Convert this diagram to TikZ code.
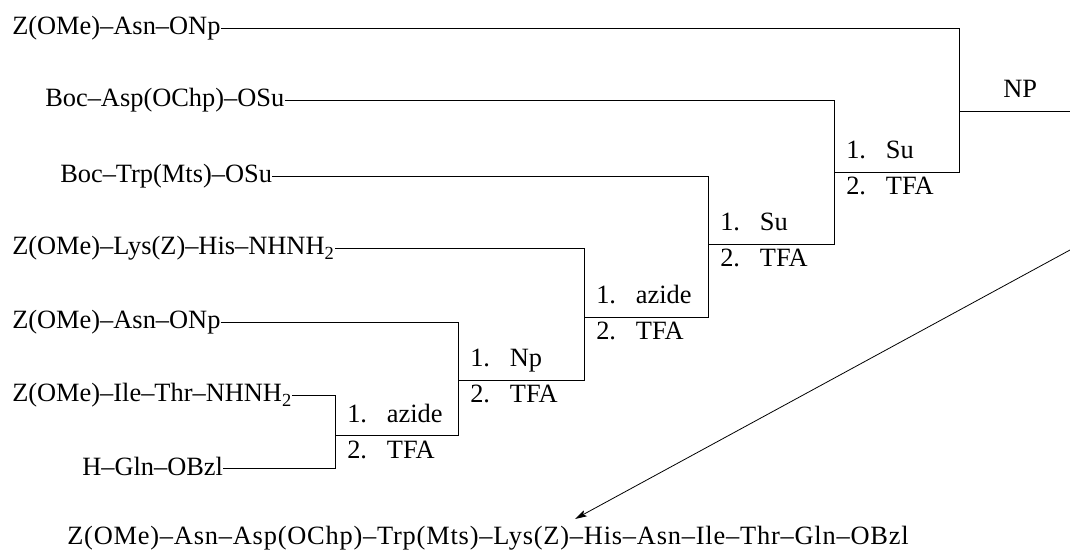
\documentclass[tikz,border=0pt]{standalone}
\usepackage{fontspec}
\setmainfont{Liberation Serif}
\usetikzlibrary{arrows.meta}

\newcommand{\gap}{\hspace{0.75em}}

\begin{document}
\begin{tikzpicture}[x=0.75pt, y=-0.75pt, >={Stealth[length=9pt, width=5pt, inset=2pt]},
		every node/.style={font=\fontsize{19.8}{24}\selectfont, inner sep=0pt},
		chem/.style={anchor=west, text height=14pt, text depth=3.5pt},
		cond/.style={anchor=base west},
		bond/.style={line width=0.6pt}]
	\useasboundingbox (0,0) rectangle (1070,555);
	% starting fragments
	\node[chem] (asnA) at (12,28) {Z(OMe)--Asn--ONp};
	\node[chem] (aspB) at (45,100) {Boc--Asp(OChp)--OSu};
	\node[chem] (trpC) at (60,176) {Boc--Trp(Mts)--OSu};
	\node[chem] (lysD) at (12,248) {Z(OMe)--Lys(Z)--His--NHNH\textsubscript{2}};
	\node[chem] (asnE) at (12,322) {Z(OMe)--Asn--ONp};
	\node[chem] (ileF) at (12,395) {Z(OMe)--Ile--Thr--NHNH\textsubscript{2}};
	\node[chem] (glnG) at (82,468) {H--Gln--OBzl};
	% coupling points
	\coordinate (j1) at (335,435);
	\coordinate (j2) at (458,380);
	\coordinate (j3) at (584,317);
	\coordinate (j4) at (708,244);
	\coordinate (j5) at (834,172);
	\coordinate (j6) at (959,111);
	\coordinate (npend) at (1070,111);
	\draw[bond] (ileF.east) -| (j1);
	\draw[bond] (glnG.east) -| (j1);
	\foreach \frag/\prev/\here in {asnE/j1/j2, lysD/j2/j3, trpC/j3/j4, aspB/j4/j5, asnA/j5/j6} {
			\draw[bond] (\frag.east) -| (\here);
			\draw[bond] (\prev) -| (\here);
		}
	\draw[bond] (j6) -- (npend);
	% conditions
	\foreach \j/\reag in {j1/azide, j2/Np, j3/azide, j4/Su, j5/Su} {
			\node[cond] (one-\j) at ([shift={(12,-13)}]\j) {1.\gap\reag};
			\node[cond] (two-\j) at ([shift={(12,23)}]\j) {2.\gap TFA};
		}
	\node[cond] (np) at ([shift={(44,-13)}]j6) {NP};
	% final product
	\node[chem] (prod) at (67,537)
	{\addfontfeatures{LetterSpace=3}Z(OMe)--Asn--Asp(OChp)--Trp(Mts)--Lys(Z)--His--Asn--Ile--Thr--Gln--OBzl};
	\coordinate (arrfrom) at (1070,250);
	\coordinate (arrto) at (575,519);
	\draw[bond, ->] (arrfrom) -- (arrto);
\end{tikzpicture}
\end{document}
